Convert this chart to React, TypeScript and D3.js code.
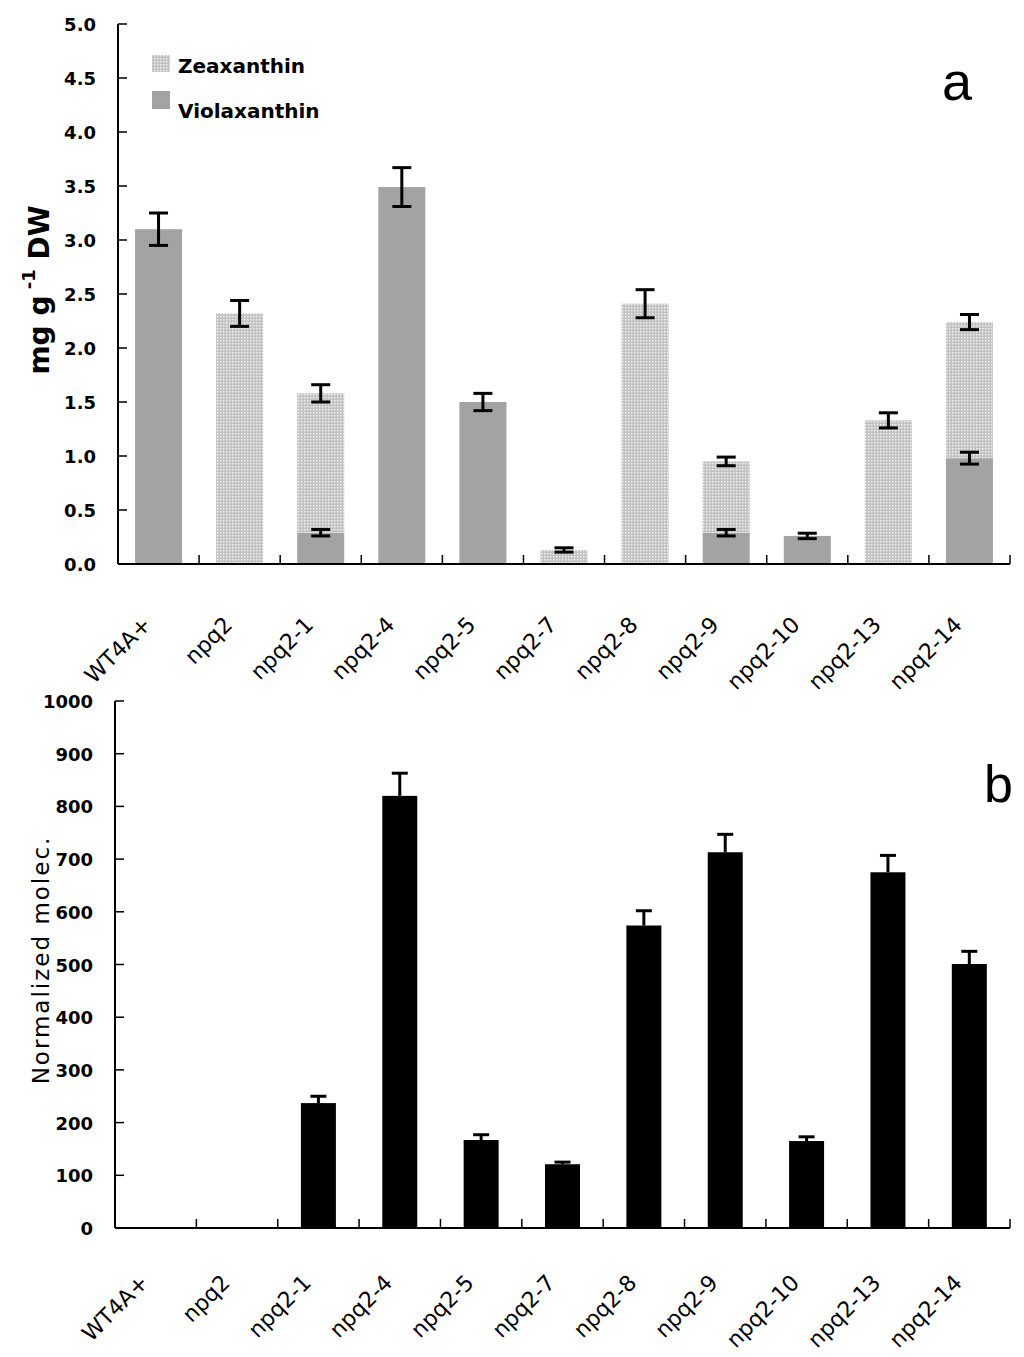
import * as d3 from 'd3'

// genotypes on both panels
const categories = ["WT4A+", "npq2", "npq2-1", "npq2-4", "npq2-5", "npq2-7", "npq2-8", "npq2-9", "npq2-10", "npq2-13", "npq2-14"]

// panel a: mg g-1 DW (zeaxanthin is stacked on violaxanthin)
const violaxanthin = [3.10, 0, 0.29, 3.49, 1.50, 0, 0, 0.29, 0.26, 0, 0.98]
const violaxanthinErr = [0.15, 0, 0.03, 0.18, 0.08, 0, 0, 0.03, 0.025, 0, 0.055]
const zeaxanthin = [0, 2.32, 1.29, 0, 0, 0.13, 2.41, 0.66, 0, 1.33, 1.26]
const zeaxanthinErr = [0, 0.12, 0.08, 0, 0, 0.02, 0.13, 0.04, 0, 0.07, 0.07]
const ticksA = [0, 0.5, 1, 1.5, 2, 2.5, 3, 3.5, 4, 4.5, 5]

// panel b: normalized molecules
const molecules = [0, 0, 237, 820, 167, 121, 574, 713, 165, 675, 501]
const moleculesErr = [0, 0, 13, 43, 10, 4, 28, 34, 8, 32, 24]
const ticksB = [0, 100, 200, 300, 400, 500, 600, 700, 800, 900, 1000]

const VIOLA = "#a3a3a3"
const tickFont = "'DejaVu Sans', Verdana, sans-serif"

function XAxis({ x, y0, labelDy }: { x: d3.ScaleBand<string>; y0: number; labelDy: number }) {
  const [r0, r1] = x.range()
  const bounds = categories.map((_, i) => r0 + x.step() * (i + 1))
  return (
    <g>
      <line x1={r0} x2={r1} y1={y0} y2={y0} stroke="#000" strokeWidth={2} />
      {bounds.map((bx, i) => (
        <line key={i} x1={bx} x2={bx} y1={y0} y2={y0 - 9} stroke="#000" strokeWidth={1.5} />
      ))}
      {categories.map(c => {
        const cx = (x(c) ?? 0) + x.bandwidth() / 2 - 6
        const cy = y0 + labelDy
        return (
          <text key={c} x={cx} y={cy} transform={`rotate(-45,${cx},${cy})`} textAnchor="end"
            fontFamily={tickFont} fontSize={22} fill="#000">{c}</text>
        )
      })}
    </g>
  )
}

function YAxis({ y, x0, ticks, fmt }: { y: d3.ScaleLinear<number, number>; x0: number; ticks: number[]; fmt: (v: number) => string }) {
  const [b, t] = y.range()
  return (
    <g>
      <line x1={x0} x2={x0} y1={b} y2={t} stroke="#000" strokeWidth={2} />
      {ticks.map(v => (
        <g key={v}>
          <line x1={x0} x2={x0 + 9} y1={y(v)} y2={y(v)} stroke="#000" strokeWidth={1.5} />
          <text x={x0 - 22} y={y(v) + 7} textAnchor="end" fontFamily={tickFont} fontWeight="bold"
            fontSize={18} fill="#000">{fmt(v)}</text>
        </g>
      ))}
    </g>
  )
}

function ErrBar({ cx, y, v, e, w, both }: { cx: number; y: d3.ScaleLinear<number, number>; v: number; e: number; w: number; both: boolean }) {
  const top = y(v + e)
  const bot = both ? y(v - e) : y(v)
  return (
    <g stroke="#000" strokeWidth={3}>
      <line x1={cx} x2={cx} y1={top} y2={bot} />
      <line x1={cx - w / 2} x2={cx + w / 2} y1={top} y2={top} />
      {both && <line x1={cx - w / 2} x2={cx + w / 2} y1={bot} y2={bot} />}
    </g>
  )
}

export default function App() {
  const xA = d3.scaleBand<string>().domain(categories).range([118, 1010])
  const yA = d3.scaleLinear().domain([0, 5]).range([564, 24])
  const xB = d3.scaleBand<string>().domain(categories).range([115, 1010])
  const yB = d3.scaleLinear().domain([0, 1000]).range([1228, 701])

  const bwA = xA.step() * 0.58
  const bwB = xB.step() * 0.43

  return (
    <svg width={1024} height={1357} style={{ position: 'absolute', left: 0, top: 0, background: '#fff' }}>
      <defs>
        <pattern id="zea" patternUnits="userSpaceOnUse" width={3} height={3}>
          <rect width={3} height={3} fill="#c2c2c2" />
          <rect x={1} y={1} width={1.4} height={1.4} fill="#f4f4f4" />
        </pattern>
      </defs>
      <rect width={1024} height={1357} fill="#fff" />

      {/* panel a */}
      <g>
        {categories.map((c, i) => {
          const cx = (xA(c) ?? 0) + xA.bandwidth() / 2
          const v = violaxanthin[i]
          const z = zeaxanthin[i]
          return (
            <g key={c}>
              {v > 0 && <rect x={cx - bwA / 2} width={bwA} y={yA(v)} height={yA(0) - yA(v)} fill={VIOLA} />}
              {z > 0 && <rect x={cx - bwA / 2} width={bwA} y={yA(v + z)} height={yA(v) - yA(v + z)} fill="url(#zea)" />}
            </g>
          )
        })}
        {categories.map((c, i) => {
          const cx = (xA(c) ?? 0) + xA.bandwidth() / 2
          const v = violaxanthin[i]
          const z = zeaxanthin[i]
          return (
            <g key={c}>
              {v > 0 && <ErrBar cx={cx} y={yA} v={v} e={violaxanthinErr[i]} w={19} both />}
              {z > 0 && <ErrBar cx={cx} y={yA} v={v + z} e={zeaxanthinErr[i]} w={19} both />}
            </g>
          )
        })}
        <YAxis y={yA} x0={118} ticks={ticksA} fmt={d3.format(".1f")} />
        <XAxis x={xA} y0={564} labelDy={62} />

        <rect x={152} y={55} width={18} height={17} fill="url(#zea)" />
        <text x={178} y={73} fontFamily={tickFont} fontWeight="bold" fontSize={20} fill="#000">Zeaxanthin</text>
        <rect x={152} y={91} width={18} height={18} fill={VIOLA} />
        <text x={178} y={118} fontFamily={tickFont} fontWeight="bold" fontSize={20} fill="#000">Violaxanthin</text>

        <text x={942} y={100} fontFamily="'Liberation Sans', Arial, sans-serif" fontSize={54} fill="#000">a</text>

        <text transform="translate(49,290) rotate(-90)" textAnchor="middle" fontFamily={tickFont}
          fontWeight="bold" fontSize={28} fill="#000">
          mg g<tspan fontSize={18} dy={-14}> -1</tspan><tspan dy={14}> DW</tspan>
        </text>
      </g>

      {/* panel b */}
      <g>
        {categories.map((c, i) => {
          const cx = (xB(c) ?? 0) + xB.bandwidth() / 2
          const v = molecules[i]
          if (v <= 0) return null
          return (
            <g key={c}>
              <rect x={cx - bwB / 2} width={bwB} y={yB(v)} height={yB(0) - yB(v)} fill="#000" />
              <ErrBar cx={cx} y={yB} v={v} e={moleculesErr[i]} w={16} both={false} />
            </g>
          )
        })}
        <YAxis y={yB} x0={115} ticks={ticksB} fmt={d3.format("d")} />
        <XAxis x={xB} y0={1228} labelDy={56} />

        <text x={984} y={802} fontFamily="'Liberation Sans', Arial, sans-serif" fontSize={52} fill="#000">b</text>

        <text transform="translate(49,960) rotate(-90)" textAnchor="middle" fontFamily={tickFont}
          fontSize={23} letterSpacing={2} fill="#000">Normalized molec.</text>
      </g>
    </svg>
  )
}
